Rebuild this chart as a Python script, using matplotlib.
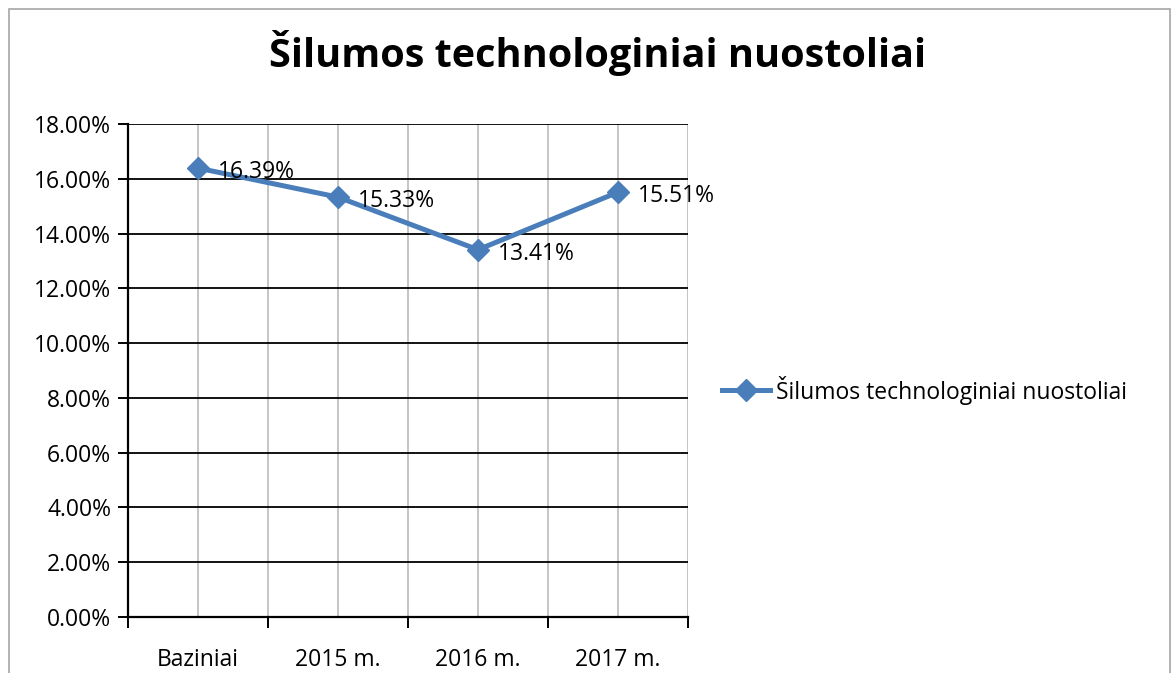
import matplotlib
matplotlib.use('Agg')
import matplotlib.pyplot as plt
from matplotlib.patches import Rectangle
from matplotlib.ticker import FixedLocator, FuncFormatter

categories = ['Baziniai', '2015 m.', '2016 m.', '2017 m.']
losses = [16.39, 15.33, 13.41, 15.51]
series_name = 'Šilumos technologiniai nuostoliai'
title = 'Šilumos technologiniai nuostoliai'

plt.rcParams['font.family'] = ['Open Sans', 'DejaVu Sans']

fig = plt.figure(figsize=(11.76, 6.73), dpi=100)
fig.patches.append(Rectangle((9 / 1176, -0.1), 1161 / 1176, 1.1 - 9 / 673,
                             transform=fig.transFigure, fill=False,
                             edgecolor='#a6a6a6', linewidth=1.2))
ax = fig.add_axes([128 / 1176, 1 - 617 / 673, 560 / 1176, 493 / 673])

x = list(range(len(categories)))
line_color = '#4a7ebb'
ax.plot(x, losses, color=line_color, lw=3.6, marker='D', markersize=11,
        label=series_name, zorder=5, clip_on=False)
for xi, v in zip(x, losses):
    ax.annotate('%.2f%%' % v, (xi, v), xytext=(14, -3), textcoords='offset points',
                ha='left', va='center', fontsize=16.5, zorder=6)

ax.set_xlim(-0.5, len(categories) - 0.5)
ax.set_ylim(0, 18)
ax.yaxis.set_major_locator(FixedLocator([i * 2 for i in range(10)]))
ax.yaxis.set_major_formatter(FuncFormatter(lambda v, p: '%.2f%%' % v))
ax.set_xticks(x)
ax.set_xticklabels(categories)
ax.set_xticks([i - 0.5 for i in range(len(categories) + 1)], minor=True)

ax.grid(axis='y', which='major', color='black', lw=1.3)
for xv in [i * 0.5 - 0.5 for i in range(1, 2 * len(categories) + 1)]:
    ax.axvline(xv, color='#c0c0c0', lw=1.3, zorder=0)
ax.set_axisbelow(True)

for s in ['top', 'right']:
    ax.spines[s].set_visible(False)
ax.spines['left'].set_linewidth(1.6)
ax.spines['bottom'].set_linewidth(1.6)
ax.tick_params(axis='y', length=7, width=1.4, labelsize=16.5, pad=5)
ax.tick_params(axis='x', which='major', length=0, labelsize=16.5, pad=22)
ax.tick_params(axis='x', which='minor', length=8, width=1.4, direction='out')

fig.text(598 / 1176, 1 - 53 / 673, title, ha='center', va='center',
         fontsize=28.5, fontweight='bold')

ax.legend(loc='center left', bbox_to_anchor=(722 / 1176, 1 - 390 / 673),
          bbox_transform=fig.transFigure, frameon=False, fontsize=16.5,
          handlelength=2.1, handletextpad=0.25, borderaxespad=0,
          borderpad=0)

fig.savefig('out.png', dpi=100)
